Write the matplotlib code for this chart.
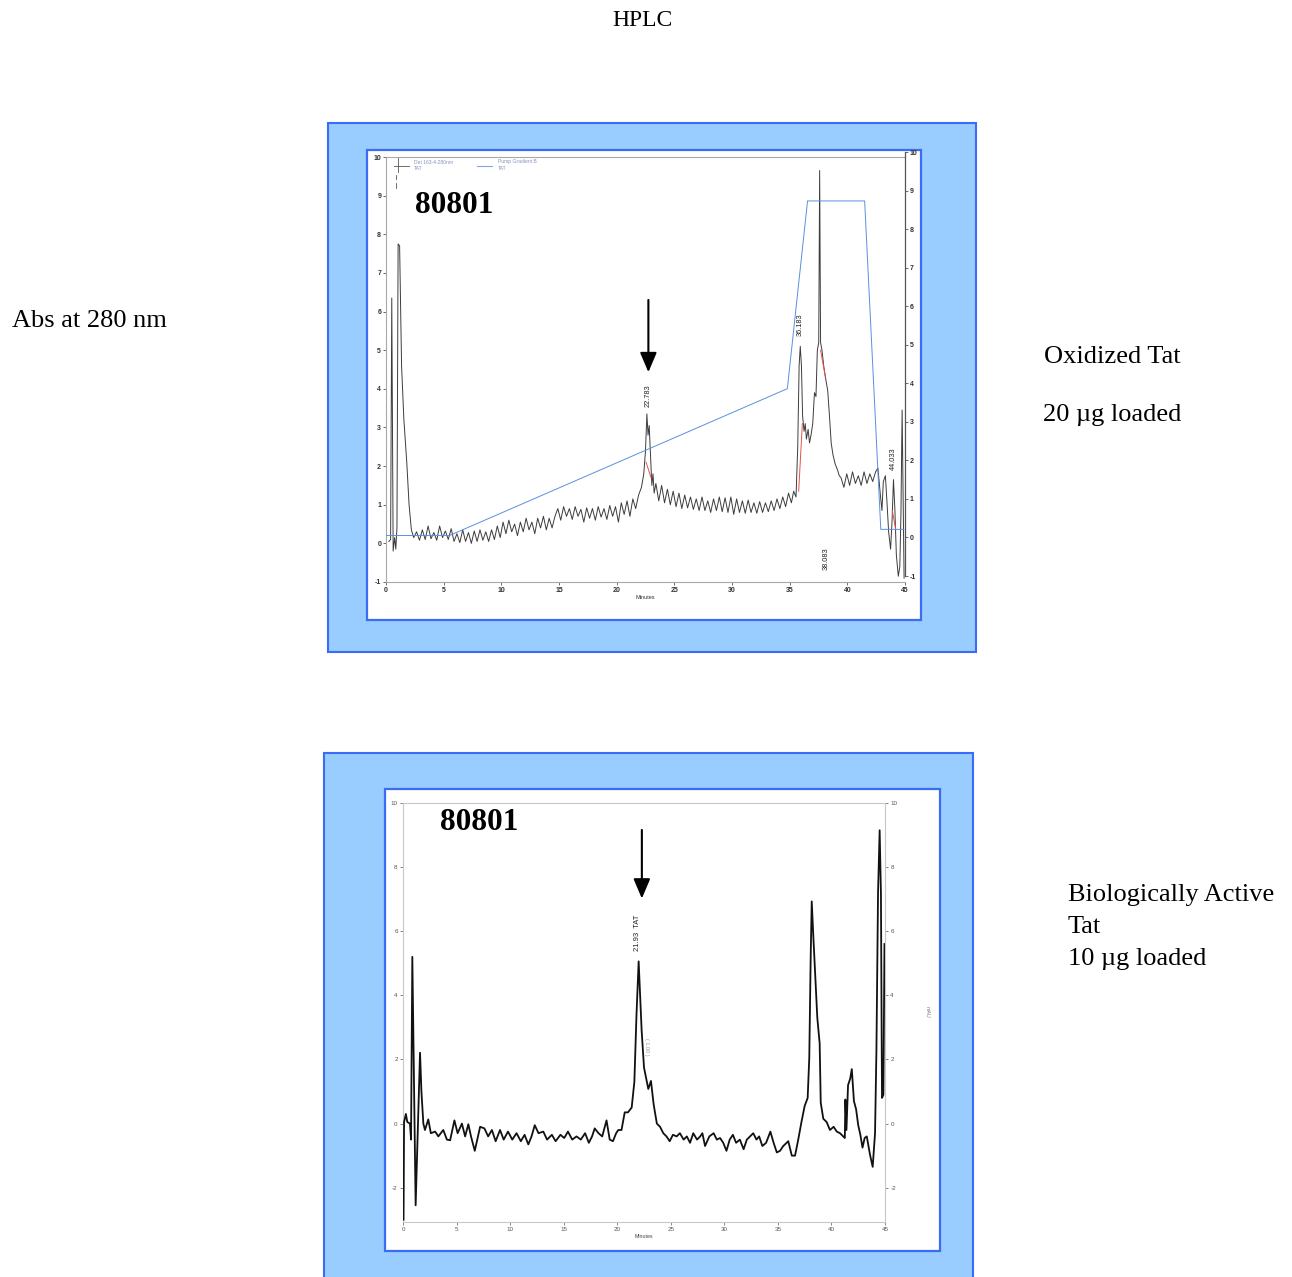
import matplotlib
matplotlib.use('Agg')
import matplotlib.pyplot as plt
from matplotlib.patches import Rectangle

plt.rcParams['axes.unicode_minus'] = False

# ---------------- data ----------------
# Top chromatogram: oxidized Tat, absorbance (left axis units)
top_time = [0.25, 0.40, 0.50, 0.62, 0.75, 0.85, 0.95, 1.05, 1.18, 1.35, 1.55, 1.80, 2.00, 2.20,
            2.40, 2.65, 2.90, 3.15, 3.40, 3.65, 3.90, 4.15, 4.40, 4.65, 4.90, 5.15, 5.40, 5.65, 5.90,
            6.15, 6.40, 6.65, 6.90, 7.15, 7.40, 7.65, 7.90, 8.15, 8.40, 8.65, 8.90, 9.15, 9.40,
            9.65, 9.90, 10.15, 10.40, 10.65, 10.90, 11.15, 11.40, 11.65, 11.90, 12.15, 12.40, 12.65,
            12.90, 13.15, 13.40, 13.65, 13.90, 14.15, 14.40, 14.65,
            14.90, 15.15, 15.40, 15.65, 15.90, 16.15, 16.40, 16.65, 16.90, 17.15, 17.40, 17.65,
            17.90, 18.15, 18.40, 18.65, 18.90, 19.15, 19.40, 19.65,
            19.90, 20.15, 20.40, 20.65, 20.90, 21.15, 21.40, 21.65, 21.90, 22.15,
            22.35, 22.50, 22.62, 22.72, 22.82, 22.95, 23.05, 23.15, 23.25,
            23.40, 23.65, 23.90, 24.15, 24.40, 24.65, 24.90, 25.15, 25.40, 25.65, 25.90, 26.15,
            26.40, 26.65, 26.90, 27.15, 27.40, 27.65, 27.90, 28.15, 28.40, 28.65, 28.90, 29.15,
            29.40, 29.65, 29.90, 30.15, 30.40, 30.65, 30.90, 31.15, 31.40, 31.65, 31.90, 32.15,
            32.40, 32.65, 32.90, 33.15, 33.40, 33.65, 33.90, 34.15, 34.40, 34.65, 34.90, 35.15,
            35.35, 35.55, 35.70, 35.82, 35.92, 36.02, 36.12, 36.25, 36.35, 36.45, 36.60, 36.72,
            36.85, 37.00, 37.15, 37.28, 37.40, 37.52, 37.60, 37.68, 37.80, 37.95, 38.10, 38.30,
            38.45, 38.60, 38.75, 38.95, 39.15, 39.30,
            39.45, 39.70, 39.95, 40.20, 40.45, 40.70, 40.95, 41.20, 41.45, 41.70, 41.95, 42.20, 42.45,
            42.65, 42.85, 43.00, 43.12, 43.30, 43.45, 43.58, 43.75, 43.88, 44.00, 44.12, 44.25,
            44.42, 44.55, 44.65, 44.75, 44.85, 44.92]
top_abs = [0.05, 0.10, 6.35, -0.20, 0.15, -0.15, 0.40, 7.75, 7.70, 4.60, 3.20, 2.10, 1.00, 0.35,
           0.15, 0.30, 0.08, 0.35, 0.10, 0.45, 0.12, 0.28, 0.08, 0.45, 0.15, 0.32, 0.10, 0.38, 0.05,
           0.25, 0.02, 0.35, 0.05, 0.28, 0.00, 0.32, 0.05, 0.35, 0.08, 0.30, 0.05, 0.35, 0.10,
           0.45, 0.15, 0.55, 0.25, 0.60, 0.30, 0.50, 0.20, 0.55, 0.30, 0.65, 0.35, 0.55,
           0.25, 0.65, 0.40, 0.70, 0.35, 0.65, 0.40, 0.70,
           0.90, 0.60, 0.95, 0.70, 0.90, 0.62, 0.95, 0.70, 0.88, 0.55, 0.92, 0.65,
           0.90, 0.60, 0.95, 0.68, 0.90, 0.62, 0.98, 0.70,
           0.95, 0.55, 1.05, 0.75, 1.10, 0.70, 1.15, 0.90, 1.25, 1.45,
           1.80, 2.40, 3.35, 2.80, 3.05, 2.20, 1.50, 1.80, 1.30,
           1.55, 1.10, 1.50, 1.05, 1.40, 1.00, 1.35, 0.95, 1.30, 0.90, 1.25, 0.92,
           1.20, 0.88, 1.15, 0.85, 1.20, 0.85, 1.10, 0.80, 1.15, 0.85, 1.20, 0.82,
           1.18, 0.80, 1.20, 0.75, 1.15, 0.80, 1.10, 0.78, 1.12, 0.80, 1.05, 0.78,
           1.08, 0.80, 1.05, 0.82, 1.10, 0.85, 1.15, 0.90, 1.20, 0.95, 1.30, 1.05,
           1.35, 1.20, 2.50, 4.60, 5.10, 4.60, 3.30, 2.90, 3.10, 2.70, 2.95, 2.60,
           2.80, 3.10, 3.90, 3.80, 5.00, 5.20, 9.65, 5.20, 5.00, 4.60, 4.30, 3.95,
           3.30, 2.60, 2.30, 2.05, 1.90, 1.75,
           1.70, 1.45, 1.80, 1.50, 1.85, 1.55, 1.75, 1.50, 1.85, 1.55, 1.80, 1.60, 1.85,
           1.95, 1.30, 0.85, 1.60, 1.75, 1.00, 0.30, -0.15, 0.60, 1.65, 0.90, -0.30,
           -0.85, -0.60, 0.80, 3.45, 1.00, -0.90]

# Pump gradient B (right axis units)
grad_time = [0.0, 5.5, 34.8, 36.55, 41.5, 42.9, 44.9]
grad_value = [0.05, 0.05, 3.86, 8.73, 8.73, 0.21, 0.21]

# Integration baseline marks (red) on the top trace
red_t0 = [22.55, 35.78, 37.68, 43.90]
red_v0 = [2.10, 1.35, 5.00, 0.85]
red_t1 = [22.98, 36.10, 38.10, 44.20]
red_v1 = [1.70, 3.10, 4.30, 0.35]

# Top peak labels
top_peak_labels = ['22.783', '36.183', '38.083', '44.033']
top_peak_t = [22.75, 35.92, 38.15, 43.95]
top_peak_y = [3.83, 5.66, -0.39, 2.18]

# Bottom chromatogram: biologically active Tat
bot_time = [0.05, 0.10, 0.27, 0.40, 0.65, 0.75, 0.87, 1.18, 1.59, 1.72, 1.90, 2.05, 2.36, 2.60,
            3.00, 3.30, 3.76, 4.10, 4.40, 4.80, 5.10, 5.50, 5.80, 6.10, 6.35, 6.70, 7.20, 7.60,
            7.95, 8.30, 8.65, 9.06, 9.40, 9.80, 10.20, 10.60, 11.00, 11.35, 11.70, 12.00, 12.30,
            12.65, 13.10, 13.45, 13.90, 14.25, 14.70, 15.05, 15.40, 15.80, 16.20, 16.60, 17.00,
            17.35, 17.65, 17.90, 18.25, 18.60, 19.00, 19.30, 19.60, 19.90, 20.10, 20.40, 20.70,
            21.00, 21.35, 21.60, 21.80, 22.00, 22.28, 22.50, 22.90, 23.15, 23.40, 23.70, 24.00,
            24.30, 24.60, 24.90, 25.20, 25.55, 25.85, 26.20, 26.50, 26.80, 27.10, 27.45, 27.75,
            27.95, 28.20, 28.60, 29.00, 29.30, 29.60, 29.90, 30.20, 30.50, 30.80, 31.10, 31.45,
            31.80, 32.10, 32.40, 32.70, 33.00, 33.25, 33.55, 33.90, 34.30, 34.60, 34.90, 35.20,
            35.50, 35.97, 36.30, 36.60, 36.90, 37.20, 37.50, 37.78, 37.93, 38.06, 38.16, 38.30,
            38.50, 38.68, 38.90, 39.00, 39.24, 39.55, 39.86, 40.20, 40.50, 40.80, 41.10, 41.25,
            41.30, 41.40, 41.55, 41.75, 41.90, 42.10, 42.30, 42.50, 42.70, 42.90, 43.10, 43.30,
            43.60, 43.85, 44.07, 44.20, 44.35, 44.50, 44.62, 44.72, 44.85, 44.95]
bot_abs = [-3.00, 0.05, 0.30, 0.05, 0.00, -0.50, 5.20, -2.55, 2.21, 1.00, 0.00, -0.20, 0.13, -0.30,
           -0.25, -0.40, -0.20, -0.50, -0.52, 0.10, -0.30, 0.00, -0.40, -0.02, -0.40, -0.85, -0.10, -0.15,
           -0.40, -0.20, -0.55, -0.20, -0.50, -0.25, -0.50, -0.30, -0.55, -0.35, -0.65, -0.40, -0.05,
           -0.30, -0.25, -0.50, -0.35, -0.55, -0.35, -0.45, -0.25, -0.50, -0.40, -0.50, -0.30,
           -0.60, -0.40, -0.15, -0.30, -0.40, 0.10, -0.50, -0.55, -0.30, -0.20, -0.20, 0.35,
           0.35, 0.50, 1.30, 3.40, 5.06, 2.90, 1.75, 1.08, 1.33, 0.60, 0.00, -0.10,
           -0.30, -0.40, -0.55, -0.35, -0.40, -0.30, -0.50, -0.40, -0.60, -0.30, -0.50, -0.40,
           -0.30, -0.70, -0.40, -0.30, -0.50, -0.45, -0.60, -0.85, -0.50, -0.35, -0.60, -0.50,
           -0.80, -0.50, -0.40, -0.30, -0.50, -0.40, -0.70, -0.60, -0.25, -0.60, -0.90, -0.85,
           -0.70, -0.55, -1.00, -1.00, -0.50, 0.05, 0.55, 0.80, 2.05, 5.15, 6.93, 5.90,
           4.55, 3.30, 2.50, 0.65, 0.15, 0.05, -0.20, -0.10, -0.25, -0.30, -0.40, -0.45,
           0.75, -0.20, 1.20, 1.40, 1.70, 0.70, 0.45, -0.05, -0.35, -0.75, -0.45, -0.40,
           -0.97, -1.35, -0.30, 2.30, 7.20, 9.15, 7.20, 0.80, 0.90, 5.60]

x_ticks = [0, 5, 10, 15, 20, 25, 30, 35, 40, 45]
top_left_ticks = [-1, 0, 1, 2, 3, 4, 5, 6, 7, 8, 9, 10]
top_right_ticks = [-1, 0, 1, 2, 3, 4, 5, 6, 7, 8, 9, 10]
bot_y_ticks = [-2, 0, 2, 4, 6, 8, 10]

# ---------------- figure ----------------
W, H = 1292, 1277
DPI = 100
fig = plt.figure(figsize=(W / DPI, H / DPI), dpi=DPI)
fig.patch.set_facecolor('white')

bg = fig.add_axes([0, 0, 1, 1])
bg.set_xlim(0, W)
bg.set_ylim(H, 0)
bg.axis('off')

def frac(x0, y0, x1, y1):
    return [x0 / W, 1 - y1 / H, (x1 - x0) / W, (y1 - y0) / H]

FILL = '#99ccff'
EDGE = '#3b6cf5'
# top panel frames
bg.add_patch(Rectangle((328, 123), 648, 529, facecolor=FILL, edgecolor=EDGE, lw=1.5))
bg.add_patch(Rectangle((367, 150), 554, 470, facecolor='white', edgecolor=EDGE, lw=1.6))
# bottom panel frames
bg.add_patch(Rectangle((324, 753), 649, 540, facecolor=FILL, edgecolor=EDGE, lw=1.5))
bg.add_patch(Rectangle((385, 789), 555, 462, facecolor='white', edgecolor=EDGE, lw=1.6))

SERIF = ['Liberation Serif', 'DejaVu Serif']
SANS = ['Liberation Sans', 'DejaVu Sans']

FS = 19
bg.text(642, 26, 'HPLC', ha='center', va='baseline', fontsize=17, family=SERIF)
bg.text(12, 327, 'Abs at 280 nm', ha='left', va='baseline', fontsize=FS, family=SERIF)
bg.text(1044, 363, 'Oxidized Tat', ha='left', va='baseline', fontsize=FS, family=SERIF)
bg.text(1043, 421, '20 \u00b5g loaded', ha='left', va='baseline', fontsize=FS, family=SERIF)
bg.text(1068, 901, 'Biologically Active', ha='left', va='baseline', fontsize=FS, family=SERIF)
bg.text(1068, 933, 'Tat', ha='left', va='baseline', fontsize=FS, family=SERIF)
bg.text(1068, 965, '10 \u00b5g loaded', ha='left', va='baseline', fontsize=FS, family=SERIF)

# legend replica of the top chart (instrument printout)
bg.plot([394, 409], [166, 166], color='#555555', lw=0.6)
bg.plot([398, 398], [158, 172], color='#555555', lw=0.6)
bg.plot([396, 396], [175, 179], color='#555555', lw=0.6)
bg.plot([396, 396], [183, 188], color='#555555', lw=0.6)
bg.plot([477, 492], [166, 166], color='#7fa8e8', lw=0.8)
leg_col = '#8a95b8'
bg.text(414, 162, 'Det 163-4-280nm', fontsize=3.6, color=leg_col, family=SANS, va='center')
bg.text(414, 169, 'TAT', fontsize=3.6, color=leg_col, family=SANS, va='center')
bg.text(498, 161, 'Pump Gradient B', fontsize=3.6, color=leg_col, family=SANS, va='center')
bg.text(498, 168, 'TAT', fontsize=3.6, color=leg_col, family=SANS, va='center')

# ---------------- top chart ----------------
ax1 = fig.add_axes(frac(386, 157, 905, 582))
ax1.set_facecolor('none')
ax1.set_xlim(0, 45)
ax1.set_ylim(-1, 10)
ax1.plot(top_time, top_abs, color='#3c3c3c', lw=0.7, zorder=3)
for a, b, c, d in zip(red_t0, red_v0, red_t1, red_v1):
    ax1.plot([a, c], [b, d], color='#e8504a', lw=0.7, zorder=4)
for lab, t, y in zip(top_peak_labels, top_peak_t, top_peak_y):
    ax1.text(t, y, lab, rotation=90, ha='center', va='center', fontsize=5.3,
             family=SANS, color='#222222')
ax1.set_xticks(x_ticks)
ax1.set_yticks(top_left_ticks)
ax1.tick_params(labelsize=5, length=2, width=0.5, pad=1.5, colors='#333333')
for lab in ax1.get_xticklabels() + ax1.get_yticklabels():
    lab.set_fontfamily(SANS)
    lab.set_fontweight('bold')
ax1.set_xlabel('Minutes', fontsize=4, labelpad=1, family=SANS, color='#333333')
for s in ['left', 'bottom', 'top']:
    ax1.spines[s].set_color('#a8a8a8')
    ax1.spines[s].set_linewidth(0.8)
ax1.spines['right'].set_visible(False)

ax1.annotate('', xy=(22.75, 4.43), xytext=(22.75, 6.3),
             arrowprops=dict(arrowstyle='-|>,head_length=0.4,head_width=0.17',
                             mutation_scale=30, lw=1.5, color='black',
                             shrinkA=0, shrinkB=0))
ax1.text(2.5, 8.55, '80801', fontsize=22.5, fontweight='bold', family=SERIF,
         ha='left', va='baseline')

ax1r = fig.add_axes(frac(386, 152, 905, 576))
ax1r.set_facecolor('none')
ax1r.set_xlim(0, 45)
ax1r.set_ylim(-1, 10)
ax1r.plot(grad_time, grad_value, color='#5b8fe0', lw=0.7, zorder=2)
ax1r.set_xticks([])
ax1r.set_yticks(top_right_ticks)
ax1r.yaxis.tick_right()
ax1r.tick_params(labelsize=5, length=2, width=0.5, pad=1.5, colors='#333333')
for lab in ax1r.get_yticklabels():
    lab.set_fontfamily(SANS)
    lab.set_fontweight('bold')
for s in ['left', 'bottom', 'top']:
    ax1r.spines[s].set_visible(False)
ax1r.spines['right'].set_color('#555555')
ax1r.spines['right'].set_linewidth(0.9)

# ---------------- bottom chart ----------------
ax2 = fig.add_axes(frac(403, 803, 885, 1222))
ax2.set_facecolor('none')
ax2.set_xlim(0, 45)
ax2.set_ylim(-3.07, 10)
ax2.plot(bot_time, bot_abs, color='#111111', lw=1.3, zorder=3)
ax2.set_xticks(x_ticks)
ax2.set_yticks(bot_y_ticks)
ax2.tick_params(labelsize=4.5, length=2, width=0.5, pad=1.8, colors='#555555',
                right=True, labelright=True)
for lab in ax2.get_xticklabels() + ax2.get_yticklabels():
    lab.set_fontfamily(SANS)
ax2.set_xlabel('Minutes', fontsize=3.8, labelpad=1, family=SANS, color='#444444')
for s in ['left', 'bottom', 'top', 'right']:
    ax2.spines[s].set_color('#c8c8c8')
    ax2.spines[s].set_linewidth(0.8)
ax2.text(21.9, 5.96, '21.93  TAT', rotation=90, ha='center', va='center', fontsize=5.5,
         family=SANS, color='#222222')
ax2.text(22.7, 2.4, '( 1.00 )', rotation=270, ha='center', va='center', fontsize=4,
         family=SANS, color='#999999')
ax2.annotate('', xy=(22.3, 7.02), xytext=(22.3, 9.16),
             arrowprops=dict(arrowstyle='-|>,head_length=0.4,head_width=0.17',
                             mutation_scale=30, lw=1.5, color='black',
                             shrinkA=0, shrinkB=0))
ax2.text(3.45, 9.16, '80801', fontsize=22.5, fontweight='bold', family=SERIF,
         ha='left', va='baseline')
bg.text(927, 1012, 'mAU', rotation=270, ha='center', va='center', fontsize=3.8,
        family=SANS, color='#777777')

fig.savefig('out.png', dpi=DPI)
